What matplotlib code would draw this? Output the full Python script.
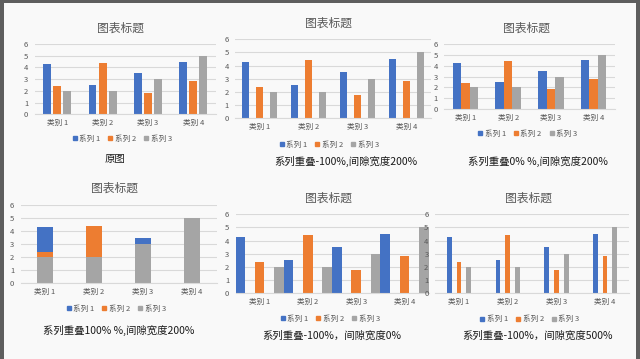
import matplotlib
matplotlib.use("Agg")
from matplotlib import pyplot as plt
from matplotlib.patches import Rectangle
from matplotlib.lines import Line2D
import numpy as np

plt.rcParams['font.family'] = ['Noto Sans CJK SC', 'DejaVu Sans']

categories = ['类别 1', '类别 2', '类别 3', '类别 4']
series_names = ['系列 1', '系列 2', '系列 3']
series1 = [4.3, 2.5, 3.5, 4.5]
series2 = [2.4, 4.4, 1.8, 2.8]
series3 = [2, 2, 3, 5]
y_ticks = [0, 1, 2, 3, 4, 5, 6]

chart_title = '图表标题'
captions = ['原图', '系列重叠-100%,间隙宽度200%', '系列重叠0% %,间隙宽度200%',
            '系列重叠100% %,间隙宽度200%', '系列重叠-100%，间隙宽度0%', '系列重叠-100%，间隙宽度500%']
# series overlap (%) and gap width (%) for each panel
overlaps = [-27, -100, 0, 100, -100, -100]
gaps = [219, 200, 200, 200, 0, 500]

colors = ['#4472C4', '#ED7D31', '#A5A5A5']
W, H = 640, 359

# layout in pixels: plot box (x0, x1, y_top, y_bottom), title, legend, caption
boxes = [(34.5, 216, 44, 114.3), (235, 431, 39.3, 118.3), (444, 615, 44.3, 108.7),
         (20.5, 216.5, 205, 283.3), (235.5, 428.6, 214.3, 293.3), (434.7, 629.4, 214.3, 293.3)]
title_pos = [(121, 28), (328, 23), (527, 28), (114.5, 188), (328.7, 198), (528, 198)]
legend_pos = [(122, 139), (329, 145), (527.5, 134), (116, 309), (330, 319), (529.7, 319.3)]
caption_pos = [(115, 159), (346, 161), (538, 161), (119, 330), (332, 336), (538, 336)]


def fx(x):
    return x / W


def fy(y):
    return 1 - y / H


fig = plt.figure(figsize=(6.4, 3.59), dpi=100, facecolor='#5e5e5e')
fig.patches.append(Rectangle((fx(4), 0), fx(636) - fx(4), fy(3), transform=fig.transFigure,
                             facecolor='#f9f9f9', edgecolor='none', zorder=-5))

data = [series1, series2, series3]
x = np.arange(len(categories))
n = len(data)

for i in range(6):
    x0, x1, yt, yb = boxes[i]
    ax = fig.add_axes([fx(x0), fy(yb), fx(x1) - fx(x0), fy(yt) - fy(yb)])
    ax.patch.set_visible(False)

    ov = overlaps[i] / 100
    gp = gaps[i] / 100
    w = 1 / (n - (n - 1) * ov + gp)
    step = w * (1 - ov)
    for k, vals in enumerate(data):
        off = (k - (n - 1) / 2) * step
        ax.bar(x + off, vals, width=w, color=colors[k], zorder=2)

    ax.set_xlim(-0.5, len(categories) - 0.5)
    ax.set_ylim(0, 6)
    ax.set_yticks(y_ticks)
    ax.set_xticks(x)
    ax.set_xticklabels(categories)
    ax.grid(axis='y', color='#d9d9d9', linewidth=0.8, zorder=0)
    for s in ['top', 'left', 'right']:
        ax.spines[s].set_visible(False)
    ax.spines['bottom'].set_color('#d9d9d9')
    ax.tick_params(axis='both', length=0, labelsize=5.5, labelcolor='#595959')
    ax.tick_params(axis='y', pad=4.5)
    ax.tick_params(axis='x', pad=3.5)

    tx, ty = title_pos[i]
    fig.text(fx(tx), fy(ty), chart_title, ha='center', va='center', fontsize=8.5, color='#595959')

    handles = [Line2D([], [], marker='s', linestyle='none', markersize=3,
                      markerfacecolor=c, markeredgecolor=c) for c in colors]
    lx, ly = legend_pos[i]
    fig.legend(handles, series_names, loc='center', bbox_to_anchor=(fx(lx), fy(ly)),
               ncol=3, frameon=False, fontsize=5.5, labelcolor='#595959',
               handlelength=0.6, handletextpad=0.3, columnspacing=1.0,
               borderpad=0, borderaxespad=0)

    cx, cy = caption_pos[i]
    fig.text(fx(cx), fy(cy), captions[i], ha='center', va='center', fontsize=7.5, color='#1a1a1a')

fig.savefig('out.png', dpi=100, facecolor=fig.get_facecolor())
